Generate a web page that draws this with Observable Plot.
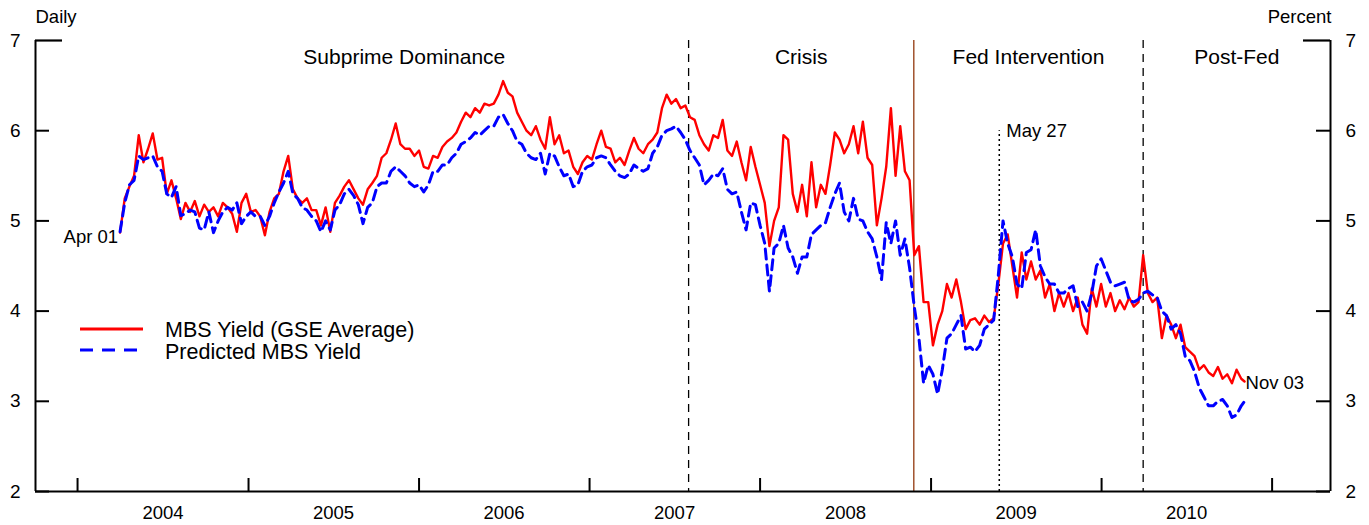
<!DOCTYPE html>
<html>
<head>
<meta charset="utf-8">
<script src="https://cdn.jsdelivr.net/npm/d3@7"></script>
<script src="https://cdn.jsdelivr.net/npm/@observablehq/plot@0.6"></script>
<style>
  html, body { margin: 0; padding: 0; background: #fff; }
  #wrap { position: relative; width: 1369px; height: 525px; font-family: "Liberation Sans", Arial, Helvetica, sans-serif; }
  #legend { position: absolute; left: 0; top: 0; pointer-events: none; }
</style>
</head>
<body>
<div id="wrap"></div>
<script>
// ---- sampling grid (every 10 days from Apr 1 2004, last point Nov 3 2010) ----
const sampleStart = "2004-04-01";
const sampleEnd = "2010-11-03";
const sampleStepDays = 10;

// MBS Yield (GSE Average), percent
const mbsYield = [
4.87,5.25,5.38,5.5,5.95,5.65,5.8,5.97,5.68,5.7,
5.3,5.45,5.25,5.02,5.2,5.1,5.22,5.05,5.18,5.1,
5.15,5.05,5.2,5.15,5.08,4.88,5.2,5.3,5.1,5.12,
5.05,4.84,5.1,5.25,5.3,5.55,5.72,5.35,5.25,5.2,
5.25,5.12,5.12,4.95,5.15,4.88,5.2,5.28,5.38,5.45,
5.35,5.25,5.18,5.35,5.42,5.5,5.7,5.75,5.9,6.08,
5.85,5.8,5.8,5.72,5.78,5.6,5.58,5.72,5.7,5.82,
5.88,5.92,5.98,6.1,6.2,6.15,6.25,6.2,6.3,6.28,
6.3,6.4,6.55,6.42,6.38,6.2,6.1,6.0,5.95,6.05,
5.9,5.8,6.15,5.85,5.95,5.75,5.78,5.6,5.52,5.65,
5.72,5.68,5.85,6.0,5.82,5.8,5.65,5.7,5.62,5.78,
5.92,5.8,5.75,5.85,5.9,5.98,6.25,6.4,6.3,6.35,
6.25,6.28,6.15,6.12,5.95,5.85,5.78,5.95,5.92,6.12,
5.78,5.72,5.88,5.65,5.45,5.82,5.6,5.4,5.2,4.72,
5.0,5.15,5.95,5.9,5.3,5.1,5.4,5.05,5.65,5.15,
5.4,5.3,5.62,5.98,5.9,5.75,5.85,6.05,5.75,6.1,
5.7,5.62,4.95,5.25,5.6,6.25,5.5,6.05,5.55,5.45,
4.62,4.72,4.1,4.1,3.62,3.85,4.0,4.3,4.15,4.35,
4.1,3.8,3.9,3.92,3.85,3.95,3.88,3.92,4.3,4.75,
4.85,4.5,4.15,4.65,4.35,4.55,4.35,4.45,4.15,4.3,
4.0,4.2,4.05,4.2,4.0,4.15,3.85,3.75,4.25,4.05,
4.3,4.05,4.2,4.0,4.12,4.02,4.15,4.05,4.1,4.62,
4.2,4.1,4.15,3.7,3.95,3.85,3.7,3.85,3.6,3.55,
3.5,3.35,3.4,3.32,3.28,3.38,3.25,3.3,3.2,3.35,
3.25,3.22
];

// Predicted MBS Yield, percent
const predictedYield = [
4.88,5.2,5.4,5.45,5.72,5.68,5.7,5.72,5.6,5.55,
5.3,5.26,5.38,5.06,5.08,5.12,5.1,4.92,4.9,5.1,
4.87,5.0,5.1,5.15,5.12,5.2,4.97,5.05,5.1,5.05,
5.05,4.95,5.05,5.2,5.32,5.42,5.55,5.3,5.25,5.15,
5.12,5.05,5.0,4.88,5.0,4.9,5.12,5.18,5.3,5.35,
5.28,5.18,4.97,5.15,5.2,5.38,5.42,5.42,5.55,5.6,
5.55,5.5,5.42,5.38,5.4,5.32,5.4,5.55,5.55,5.62,
5.62,5.7,5.75,5.85,5.88,5.92,5.98,5.95,6.0,6.05,
6.05,6.15,6.18,6.08,6.0,5.88,5.85,5.75,5.7,5.68,
5.75,5.52,5.75,5.72,5.6,5.5,5.52,5.38,5.4,5.55,
5.6,5.62,5.7,5.72,5.7,5.62,5.55,5.5,5.48,5.52,
5.62,5.58,5.55,5.58,5.75,5.82,5.95,6.0,6.02,6.05,
5.98,5.9,5.78,5.7,5.62,5.4,5.45,5.52,5.5,5.58,
5.35,5.3,5.32,5.1,4.9,5.2,5.18,4.95,4.75,4.22,
4.7,4.75,4.95,4.7,4.6,4.42,4.6,4.6,4.85,4.9,
4.95,4.98,5.15,5.3,5.42,5.1,5.0,5.25,5.02,5.0,
4.88,4.8,4.6,4.35,4.98,4.75,5.0,4.62,4.8,4.48,
4.05,3.7,3.2,3.4,3.3,3.08,3.35,3.7,3.75,3.85,
3.95,3.58,3.6,3.55,3.62,3.8,3.85,3.9,4.4,5.0,
4.75,4.6,4.3,4.25,4.65,4.68,4.9,4.5,4.38,4.3,
4.3,4.2,4.2,4.25,4.28,4.05,4.1,4.0,4.2,4.5,
4.58,4.45,4.32,4.28,4.3,4.32,4.12,4.1,4.13,4.2,
4.22,4.18,4.15,4.0,3.95,3.8,3.85,3.75,3.5,3.45,
3.33,3.15,3.05,2.95,2.95,3.0,3.02,2.95,2.82,2.85,
2.95,3.0
];

// Axis ticks and labels
const yTicks = [2, 3, 4, 5, 6, 7];
const yearTicks = ["2004-01-01","2005-01-01","2006-01-01","2007-01-01","2008-01-01","2009-01-01","2010-01-01","2011-01-01"];
const yearLabels = ["2004","2005","2006","2007","2008","2009","2010"];
const xDomain = ["2003-10-03", "2011-05-06"];

// Event dates
const crisisStart = "2007-08-01";
const fedStart = "2008-11-25";
const may27 = "2009-05-27";
const fedEnd = "2010-03-31";
const regionNames = ["Subprime Dominance", "Crisis", "Fed Intervention", "Post-Fed"];

// ---- build table ----
const P = s => new Date(s + "T00:00:00Z");
const t0 = P(sampleStart), tEnd = P(sampleEnd);
const rows = mbsYield.map((v, i) => {
  let d = new Date(+t0 + i * sampleStepDays * 864e5);
  if (d > tEnd || i === mbsYield.length - 1) d = tEnd;
  return {date: d, mbs: v, pred: predictedYield[i]};
});

const xd = xDomain.map(P);
const bounds = [rows[0].date, P(crisisStart), P(fedStart), P(fedEnd), xd[1]];
const regions = regionNames.map((name, i) => ({name, x: new Date((+bounds[i] + +bounds[i + 1]) / 2)}));

const W = 1369, H = 525, mL = 35, mR = 39, mT = 40, mB = 34;
const fw = W - mL - mR, fh = H - mT - mB;
const font = "Liberation Sans, Arial, Helvetica, sans-serif";

const chart = Plot.plot({
  width: W, height: H,
  marginLeft: mL, marginRight: mR, marginTop: mT, marginBottom: mB,
  style: {fontFamily: font, background: "white", color: "black", overflow: "visible"},
  x: {type: "utc", domain: xd, axis: null},
  y: {domain: [2, 7], axis: null},
  marks: [
    // event lines
    Plot.ruleX([P(crisisStart), P(fedEnd)], {x: d => d, stroke: "black", strokeWidth: 1.3, strokeDasharray: "8,6"}),
    Plot.ruleX([P(fedStart)], {x: d => d, stroke: "#a0522d", strokeWidth: 1.5}),
    Plot.ruleX([P(may27)], {x: d => d, y1: 2, y2: 6, stroke: "black", strokeWidth: 1.5, strokeDasharray: "2,3"}),
    // data
    Plot.line(rows, {x: "date", y: "mbs", stroke: "#ff0000", strokeWidth: 2.4, curve: "linear"}),
    Plot.line(rows, {x: "date", y: "pred", stroke: "#0000ff", strokeWidth: 3, strokeDasharray: "10,6"}),
    // axes
    Plot.ruleX([xd[0], xd[1]], {x: d => d, stroke: "black", strokeWidth: 2}),
    Plot.ruleY([2], {y: d => d, stroke: "black", strokeWidth: 2.2}),
    Plot.ruleY(yTicks.filter(d => d < 7), {y: d => d, stroke: "black", strokeWidth: 2, insetRight: fw - 14}),
    Plot.ruleY(yTicks.filter(d => d < 7), {y: d => d, stroke: "black", strokeWidth: 2, insetLeft: fw - 14}),
    Plot.ruleY(yTicks.filter(d => d === 7), {y: d => d, stroke: "black", strokeWidth: 2.2, insetRight: fw - 27}),
    Plot.ruleY(yTicks.filter(d => d === 7), {y: d => d, stroke: "black", strokeWidth: 2.2, insetLeft: fw - 27}),
    Plot.ruleX(yearTicks.map(P), {x: d => d, stroke: "black", strokeWidth: 2, insetTop: fh - 13}),
    Plot.text(yTicks, {y: d => d, text: d => String(d), frameAnchor: "left", lineAnchor: "middle", textAnchor: "end", dx: -15, fontSize: 19, fill: "black"}),
    Plot.text(yTicks, {y: d => d, text: d => String(d), frameAnchor: "right", lineAnchor: "middle", textAnchor: "start", dx: 15, fontSize: 19, fill: "black"}),
    Plot.text(yearLabels, {x: d => P(d + "-07-02"), text: d => d, frameAnchor: "bottom", lineAnchor: "middle", dy: 22, fontSize: 18.5, fill: "black"}),
    Plot.text(["Daily"], {frameAnchor: "top-left", lineAnchor: "middle", textAnchor: "start", dx: 0, dy: -23, fontSize: 18.5, fill: "black"}),
    Plot.text(["Percent"], {frameAnchor: "top-right", lineAnchor: "middle", textAnchor: "end", dx: 1, dy: -23, fontSize: 18.5, fill: "black"}),
    // region labels
    Plot.text(regions, {x: "x", text: "name", frameAnchor: "top", lineAnchor: "middle", dy: 17, fontSize: 21, fill: "black"}),
    // annotations
    Plot.text([rows[0]], {x: "date", y: "mbs", text: () => "Apr 01", lineAnchor: "middle", textAnchor: "end", dx: -2, dy: 4, fontSize: 18.5, fill: "black"}),
    Plot.text([rows[rows.length - 1]], {x: "date", y: "mbs", text: () => "Nov 03", lineAnchor: "middle", textAnchor: "start", dx: 1, dy: 2, fontSize: 18.5, fill: "black"}),
    Plot.text([P(may27)], {x: d => d, y: () => 6, text: () => "May 27", lineAnchor: "middle", textAnchor: "start", dx: 7, dy: 0, fontSize: 18.5, fill: "black"})
  ]
});

const wrap = document.getElementById("wrap");
wrap.appendChild(chart);

// legend overlay
const ns = "http://www.w3.org/2000/svg";
const leg = document.createElementNS(ns, "svg");
leg.setAttribute("id", "legend");
leg.setAttribute("width", 500);
leg.setAttribute("height", 400);
leg.innerHTML = `
  <line x1="80" x2="143" y1="329" y2="329" stroke="#ff0000" stroke-width="3"/>
  <text x="165" y="329" dy="0.36em" font-size="21.5" font-family="${font}" fill="black">MBS Yield (GSE Average)</text>
  <line x1="80" x2="143" y1="350" y2="350" stroke="#0000ff" stroke-width="3" stroke-dasharray="13,9"/>
  <text x="165" y="351" dy="0.36em" font-size="21.5" font-family="${font}" fill="black">Predicted MBS Yield</text>`;
wrap.appendChild(leg);
</script>
</body>
</html>
